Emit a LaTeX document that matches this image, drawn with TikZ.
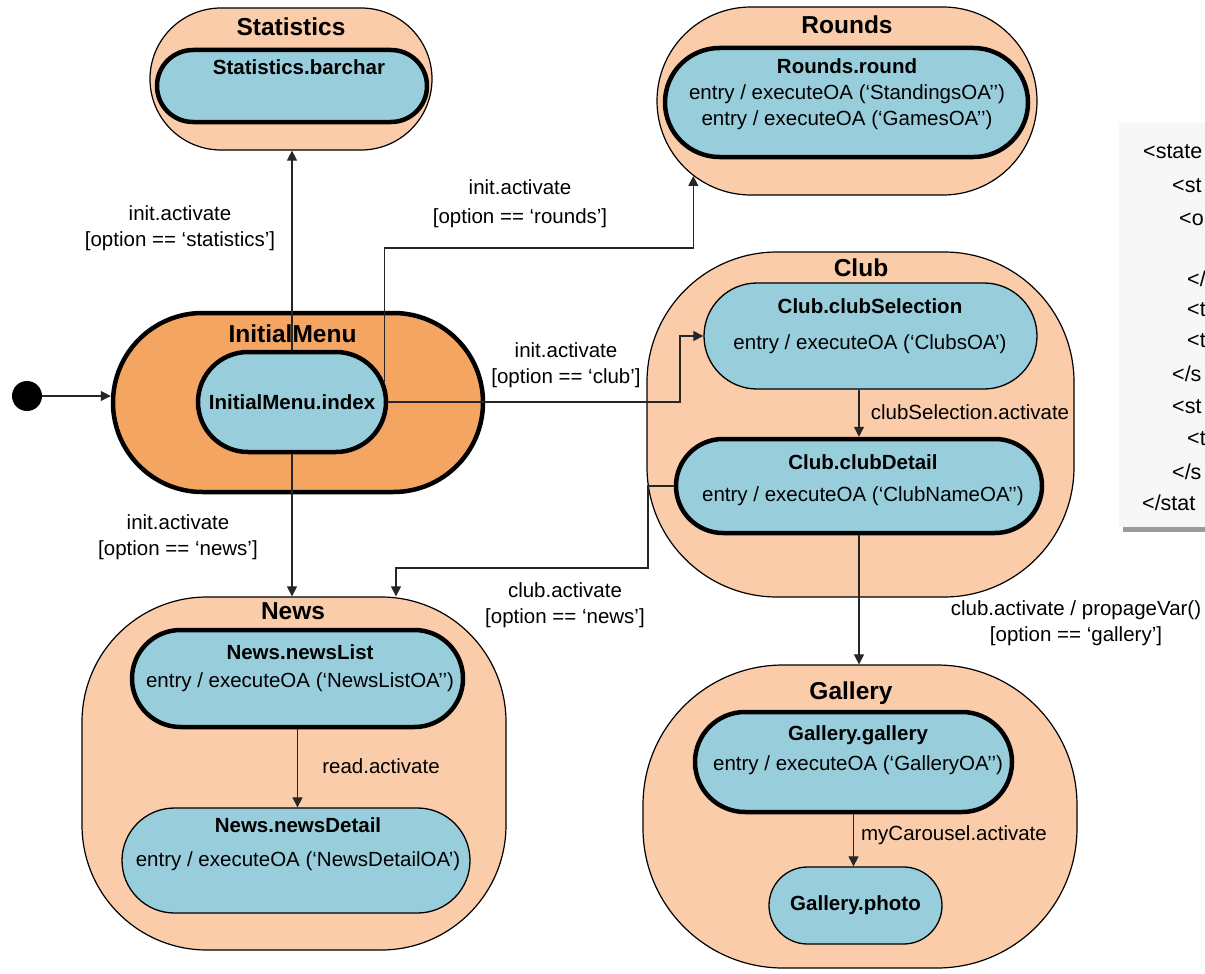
\documentclass[tikz,border=0pt]{standalone}
\usepackage{fontspec}
\setmainfont{Liberation Sans}
\usetikzlibrary{arrows.meta,shapes.misc,positioning,calc}
\definecolor{peach}{RGB}{250,204,170}
\definecolor{stblue}{RGB}{152,206,220}
\definecolor{menuorange}{RGB}{245,165,98}
\definecolor{codegray}{RGB}{247,247,247}
\definecolor{shadowgray}{RGB}{155,155,155}

\begin{document}
\begin{tikzpicture}[x=1pt,y=-1pt,
		every node/.style={inner sep=0pt, font=\fontsize{20.5}{26}\selectfont},
		superst/.style={draw, line width=1.2pt, fill=peach},
		mainst/.style={draw, line width=4.5pt, fill=menuorange, rounded rectangle},
		leafst/.style={draw, line width=1.3pt, fill=stblue, rounded rectangle},
		thickst/.style={leafst, line width=4.5pt},
		title/.style={font=\fontsize{24.5}{29}\selectfont\bfseries},
		sname/.style={font=\fontsize{20.5}{26}\selectfont\bfseries},
		stxt/.style={align=center},
		guard/.style={align=center},
		codeline/.style={anchor=west, font=\fontsize{21.5}{26}\selectfont},
		trans/.style={line width=1.1pt, draw=black!85, -{Triangle[length=10pt,width=10pt]}}]
		\useasboundingbox (0,0) rectangle (1205,974);

		% Statistics
		\node[superst, rounded rectangle, minimum width=282pt, minimum height=142pt] (stat) at (291,79) {};
		\node[title] (statT) at (291,27) {Statistics};
		\node[thickst, minimum width=270pt, minimum height=72pt] (sbar) at (292,86) {};
		\node[sname] (sbarT) at (299,67) {Statistics.barchar};

		% Rounds
		\node[superst, rounded rectangle, minimum width=380pt, minimum height=188pt] (rounds) at (847,101) {};
		\node[title] (roundsT) at (847,25) {Rounds};
		\node[thickst, minimum width=363pt, minimum height=109pt] (rround) at (846.5,102.5) {};
		\node[stxt] (rroundT) at (847,94) {\textbf{Rounds.round}\\entry / executeOA (‘StandingsOA’’)\\entry / executeOA (‘GamesOA’’)};

		% InitialMenu
		\node[mainst, minimum width=370pt, minimum height=179pt] (initm) at (298,402.5) {};
		\node[title] (initmT) at (292.5,334) {InitialMenu};
		\node[thickst, minimum width=188pt, minimum height=100pt] (idx) at (292,402) {\bfseries InitialMenu.index};
		\node[circle, fill=black, minimum size=30pt] (start) at (27,396) {};

		% Club
		\node[superst, rounded corners=130pt, minimum width=427pt, minimum height=345pt] (club) at (860.5,424.5) {};
		\node[title] (clubT) at (861,268) {Club};
		\node[leafst, minimum width=333pt, minimum height=106pt] (csel) at (870.5,336) {};
		\node[stxt] (cselT) at (870,326) {\textbf{Club.clubSelection}\\[10pt]entry / executeOA (‘ClubsOA’)};
		\node[thickst, minimum width=366pt, minimum height=94pt] (cdet) at (859,486) {};
		\node[stxt] (cdetT) at (863,480) {\textbf{Club.clubDetail}\\[6pt]entry / executeOA (‘ClubNameOA’’)};

		% News
		\node[superst, rounded corners=125pt, minimum width=424pt, minimum height=353pt] (news) at (294,773.5) {};
		\node[title] (newsT) at (293,611) {News};
		\node[thickst, minimum width=331pt, minimum height=97pt] (nlist) at (297.5,678.5) {};
		\node[stxt] (nlistT) at (300,668) {\textbf{News.newsList}\\[2pt]entry / executeOA (‘NewsListOA’’)};
		\node[leafst, minimum width=348pt, minimum height=105pt] (ndet) at (296,860.5) {};
		\node[stxt] (ndetT) at (298,844) {\textbf{News.newsDetail}\\[8pt]entry / executeOA (‘NewsDetailOA’)};

		% Gallery
		\node[superst, rounded corners=140pt, minimum width=434pt, minimum height=303pt] (gal) at (860,816.5) {};
		\node[title] (galT) at (851,693) {Gallery};
		\node[thickst, minimum width=317pt, minimum height=100pt] (ggal) at (853.5,762) {};
		\node[stxt] (ggalT) at (858,750) {\textbf{Gallery.gallery}\\[4pt]entry / executeOA (‘GalleryOA’’)};
		\node[leafst, minimum width=173pt, minimum height=77pt] (photo) at (855.5,905.5) {\bfseries Gallery.photo};

		% Codigo
		\fill[shadowgray] (1123,131) rectangle (1210,532);
		\fill[codegray] (1119,123) rectangle (1210,527);
		\foreach \y/\x/\t [count=\i] in {152/1143/{<state}, 186/1172/{<st}, 219/1179/{<o},
			279/1187/{</}, 310/1187/{<t}, 341/1187/{<t}, 374/1172/{</s}, 407/1172/{<st},
			439/1187/{<t}, 472/1172/{</s}, 503/1142/{</stat}} {
			\node[codeline] (code\i) at (\x,\y) {\t};
		}

		% Transicions
		\coordinate (rlevel) at (600,248);
		\coordinate (cselbend) at (680,370);
		\coordinate (newsbend) at (648,568);

		\draw[trans] (start) -- (start -| initm.west);
		\draw[trans] (idx.north) -- (idx.north |- stat.south);
		\draw[trans] (idx.12) |- (rlevel) -| (rounds.206);
		\draw[trans] (idx.east) -| (cselbend) |- (csel.west);
		\draw[trans] (idx.south) -- (idx.south |- news.north);
		\draw[trans] (cdet.north |- csel.south) -- (cdet.north);
		\draw[trans] (cdet.west) -| (newsbend) -| ([xshift=102pt]news.north);
		\draw[trans] (cdet.south) -- (cdet.south |- gal.north);
		\draw[trans] (nlist.south) -- (nlist.south |- ndet.north);
		\draw[trans] (ggal.south) -- (ggal.south |- photo.north);

		\node[guard] (lstat) at (180,228) {init.activate\\{}[option == ‘statistics’]};
		\node[guard] (lrounds) at (520,204) {init.activate\\[3pt]{}[option == ‘rounds’]};
		\node[guard] (lclub) at (566,365.5) {init.activate\\{}[option == ‘club’]};
		\node[guard] (lnews) at (178,537) {init.activate\\{}[option == ‘news’]};
		\node[guard] (lcnews) at (565,605) {club.activate\\{}[option == ‘news’]};
		\node[guard] (lgal) at (1076,623.5) {club.activate / propageVar()\\{}[option == ‘gallery’]};
		\node (lcsel) at (970,412) {clubSelection.activate};
		\node (lread) at (381,766) {read.activate};
		\node (lcar) at (954,835) {myCarousel.activate};
	\end{tikzpicture}
\end{document}
